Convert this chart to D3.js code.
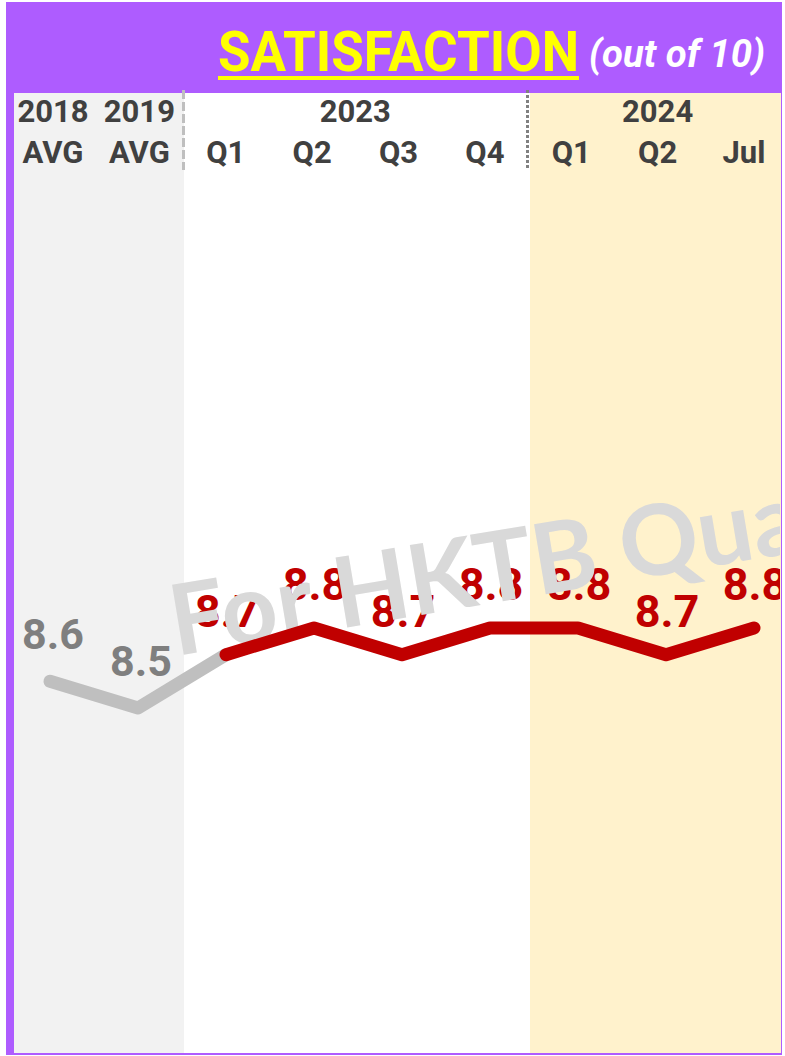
<!DOCTYPE html>
<html>
<head>
<meta charset="utf-8">
<script src="https://cdn.jsdelivr.net/npm/d3@7"></script>
<style>
  html, body { margin: 0; padding: 0; background: #ffffff; }
  svg { display: block; }
</style>
</head>
<body>
<div id="chart"></div>
<script>
// ---------- data ----------
const periods      = ["2018 AVG", "2019 AVG", "2023 Q1", "2023 Q2", "2023 Q3", "2023 Q4", "2024 Q1", "2024 Q2", "2024 Jul"];
const headerTop    = ["2018", "2019", "", "", "", "", "", "", ""];
const headerBottom = ["AVG", "AVG", "Q1", "Q2", "Q3", "Q4", "Q1", "Q2", "Jul"];
const satisfaction = [8.6, 8.5, 8.7, 8.8, 8.7, 8.8, 8.8, 8.7, 8.8];
const historicCount = 2;            // first two points are the pre-pandemic averages (grey)
const yearGroups   = ["2023", "2024"];
const yearFirst    = [2, 6];
const yearLast     = [5, 8];
const titleText    = "SATISFACTION";
const subtitleText = "(out of 10)";
const watermarkText = "For HKTB Quality Tourism Services";

// ---------- layout ----------
const W = 785, H = 1056;
const frame = { x0: 6, y0: 2, x1: 782, y1: 1055 };
const panel = { x0: 14, y0: 93, x1: 780, y1: 1053 };
const purple = "#AE5CFF";

const svg = d3.select("#chart").append("svg")
  .attr("width", W).attr("height", H);

svg.append("rect").attr("x", 0).attr("y", 0).attr("width", W).attr("height", H).attr("fill", "#ffffff");
svg.append("rect")
  .attr("x", frame.x0).attr("y", frame.y0)
  .attr("width", frame.x1 - frame.x0).attr("height", frame.y1 - frame.y0)
  .attr("fill", purple);

// scales
const idx = d3.range(periods.length);
const xHead = d3.scalePoint().domain(idx).range([53, 744]);
const x = d3.scalePoint().domain(idx).range([50, 754]);
const y = d3.scaleLinear().domain([8.5, 8.8]).range([708, 628]);

// panel boundaries from header scale midpoints (snapped to whole pixels)
const b1 = Math.round((xHead(historicCount - 1) + xHead(historicCount)) / 2) + 1;
const b2 = Math.round((xHead(yearLast[0]) + xHead(yearFirst[1])) / 2) + 2;

const defs = svg.append("defs");
defs.append("clipPath").attr("id", "panelClip")
  .append("rect").attr("x", panel.x0).attr("y", panel.y0)
  .attr("width", panel.x1 - panel.x0).attr("height", panel.y1 - panel.y0);

const panels = [
  { x0: panel.x0, x1: b1, fill: "#F2F2F2" },
  { x0: b1, x1: b2, fill: "#FFFFFF" },
  { x0: b2, x1: panel.x1, fill: "#FFF2CC" }
];
svg.append("g").attr("shape-rendering", "crispEdges")
  .selectAll("rect").data(panels).join("rect")
  .attr("x", d => d.x0).attr("y", panel.y0)
  .attr("width", d => d.x1 - d.x0 + 0.5).attr("height", panel.y1 - panel.y0)
  .attr("fill", d => d.fill);

// dividers in header
svg.append("line")
  .attr("x1", b1 - 0.5).attr("x2", b1 - 0.5).attr("y1", 90).attr("y2", 170)
  .attr("stroke", "#BFBFBF").attr("stroke-width", 3).attr("stroke-dasharray", "9,3");
svg.append("line")
  .attr("x1", b2 - 2.5).attr("x2", b2 - 2.5).attr("y1", 90).attr("y2", 170)
  .attr("stroke", "#808080").attr("stroke-width", 3).attr("stroke-dasharray", "3,2");

// title
svg.append("text")
  .attr("x", 218).attr("y", 71)
  .attr("textLength", 361).attr("lengthAdjust", "spacingAndGlyphs")
  .attr("font-family", "Roboto, 'DejaVu Sans', sans-serif")
  .attr("font-weight", 700).attr("font-size", 55)
  .attr("fill", "#FFFF00")
  .text(titleText);
svg.append("rect")
  .attr("x", 218).attr("y", 76).attr("width", 361).attr("height", 4)
  .attr("fill", "#FFFF00");
svg.append("text")
  .attr("x", 589).attr("y", 67)
  .attr("textLength", 176).attr("lengthAdjust", "spacingAndGlyphs")
  .attr("font-family", "Roboto, 'DejaVu Sans', sans-serif")
  .attr("font-weight", 700).attr("font-style", "italic").attr("font-size", 38)
  .attr("fill", "#FFFFFF")
  .text(subtitleText);

// header labels
const headFont = "Roboto, 'DejaVu Sans', sans-serif";
const hdr = svg.append("g")
  .attr("font-family", headFont).attr("font-weight", 700).attr("font-size", 31)
  .attr("fill", "#404040").attr("text-anchor", "middle");
hdr.selectAll("text.top").data(idx.filter(i => headerTop[i] !== "")).join("text")
  .attr("class", "top")
  .attr("x", i => xHead(i)).attr("y", 122)
  .text(i => headerTop[i]);
hdr.selectAll("text.grp").data(d3.range(yearGroups.length)).join("text")
  .attr("class", "grp")
  .attr("x", g => (xHead(yearFirst[g]) + xHead(yearLast[g])) / 2).attr("y", 122)
  .text(g => yearGroups[g]);
hdr.selectAll("text.bot").data(idx).join("text")
  .attr("class", "bot")
  .attr("x", i => xHead(i)).attr("y", 163)
  .text(i => headerBottom[i]);

// plot layer (clipped to panel)
const plot = svg.append("g").attr("clip-path", "url(#panelClip)");

const line = d3.line().x(i => x(i)).y(i => y(satisfaction[i]));

// value labels
plot.selectAll("text.val").data(idx).join("text")
  .attr("class", "val")
  .attr("x", i => x(i) + (i < historicCount ? 3 : 1))
  .attr("y", i => y(satisfaction[i]) - (i < historicCount ? 32 : 28))
  .attr("text-anchor", "middle")
  .attr("font-family", headFont).attr("font-weight", 700)
  .attr("font-size", i => i < historicCount ? 43 : 45)
  .attr("fill", i => i < historicCount ? "#7F7F7F" : "#C00000")
  .text(i => d3.format(".1f")(satisfaction[i]));

// watermark (over labels)
plot.append("text")
  .attr("transform", "translate(176,656) rotate(-9.5)")
  .attr("font-family", "Lato, 'Open Sans', sans-serif")
  .attr("font-weight", 700).attr("font-size", 98)
  .attr("fill", "#D9D9D9")
  .text(watermarkText);

// lines
plot.append("path")
  .attr("d", line(d3.range(0, historicCount + 1)))
  .attr("fill", "none").attr("stroke", "#BFBFBF").attr("stroke-width", 13)
  .attr("stroke-linecap", "round").attr("stroke-linejoin", "round");
plot.append("path")
  .attr("d", line(d3.range(historicCount, periods.length)))
  .attr("fill", "none").attr("stroke", "#C00000").attr("stroke-width", 13)
  .attr("stroke-linecap", "round").attr("stroke-linejoin", "round");
</script>
</body>
</html>
